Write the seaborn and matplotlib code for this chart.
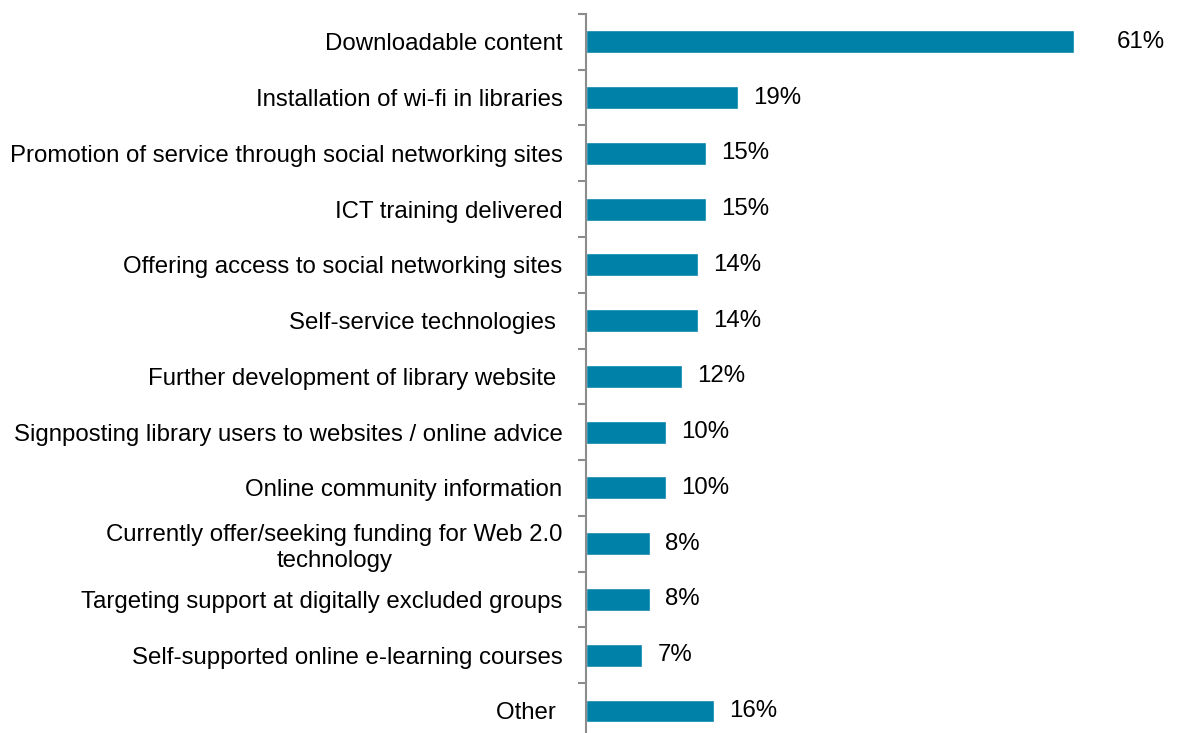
import numpy as np
import pandas as pd
import matplotlib.pyplot as plt
import seaborn as sns

# ── Data ──────────────────────────────────────────────────────
categories = [
    'Downloadable content',
    'Installation of wi-fi in libraries',
    'Promotion of service through social networking sites',
    'ICT training delivered',
    'Offering access to social networking sites',
    'Self-service technologies ',
    'Further development of library website ',
    'Signposting library users to websites / online advice',
    'Online community information',
    'Currently offer/seeking funding for Web 2.0\ntechnology',
    'Targeting support at digitally excluded groups',
    'Self-supported online e-learning courses',
    'Other ',
]
values = [61, 19, 15, 15, 14, 14, 12, 10, 10, 8, 8, 7, 16]

df = pd.DataFrame({'category': categories, 'value': values})

# ── Plot ──────────────────────────────────────────────────────
sns.set_style('white')
plt.rcParams['font.family'] = ['Liberation Sans', 'DejaVu Sans']

fig = plt.figure(figsize=(11.77, 7.33), dpi=100)
ax = fig.add_axes([0.498, -0.008, 0.476, 0.989])

sns.barplot(data=df, y='category', x='value', orient='h',
            color='#0081A7', saturation=1, width=0.41, ax=ax)

ax.set_xlim(0, 70)
ax.set_ylim(len(categories) - 0.5, -0.5)
ax.set_xlabel('')
ax.set_ylabel('')
ax.set_xticks([])

for s in ['top', 'right', 'bottom']:
    ax.spines[s].set_visible(False)
ax.spines['left'].set_color('#8c8c8c')
ax.spines['left'].set_linewidth(1.5)

# tick marks sit between categories, labels at the centres
ax.set_yticks(np.arange(len(categories) + 1) - 0.5, minor=True)
ax.tick_params(axis='y', which='minor', left=True, length=6,
               width=1.5, color='#8c8c8c')
ax.tick_params(axis='y', which='major', left=False, pad=13.5,
               labelsize=17.3, labelcolor='black')
for lbl in ax.get_yticklabels():
    lbl.set_multialignment('center')
    lbl.set_linespacing(1.2)

# value labels
for i, v in enumerate(values):
    off = 5.3 if v > 50 else 1.9
    ax.text(v + off, i, f'{v}%', va='center', ha='left',
            fontsize=17.3, color='black')

plt.savefig('out.png', dpi=100)
plt.close()
